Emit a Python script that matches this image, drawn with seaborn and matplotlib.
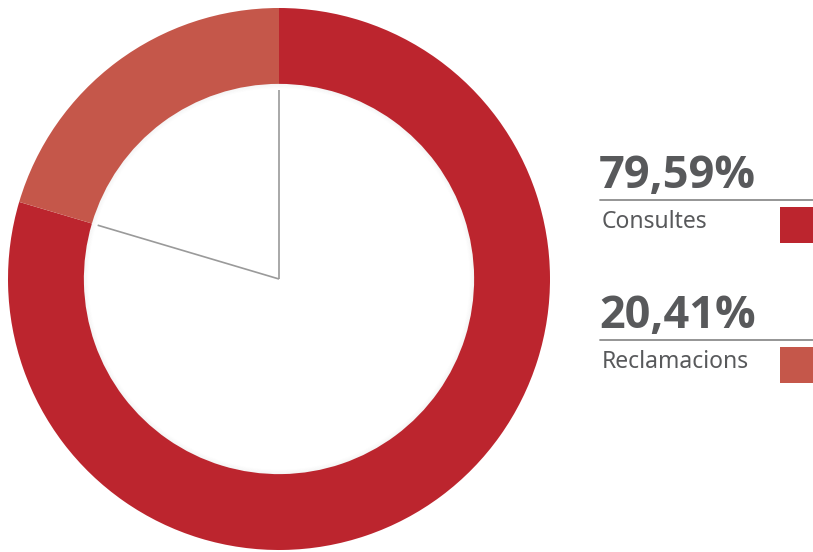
import numpy as np
import matplotlib
matplotlib.use("Agg")
import matplotlib.pyplot as plt
from matplotlib.patches import Rectangle, Wedge
import seaborn as sns

categories = ["Consultes", "Reclamacions"]
values = [79.59, 20.41]
colors = ["#BC252E", "#C5574A"]

sns.set_theme(style="white")
plt.rcParams["font.family"] = ["Noto Sans", "DejaVu Sans"]

W, H = 813, 552
fig = plt.figure(figsize=(W / 100, H / 100), dpi=100)
fig.patch.set_facecolor("white")

# donut axes: 542 px square centred at (279, 279) from the top
cx, cy, R = 279, 279, 271
ax = fig.add_axes([(cx - R) / W, (H - cy - R) / H, 2 * R / W, 2 * R / H])
ax.set_aspect("equal")
ax.axis("off")

inner = 0.72
start = 90
ax.pie(values, colors=colors, startangle=start, counterclock=False,
       radius=1.0, wedgeprops=dict(width=1.0 - inner, linewidth=0),
       frame=False)
ax.set_xlim(-1, 1)
ax.set_ylim(-1, 1)

# soft inner shadow along the hole edge
for i, a in enumerate(np.linspace(0.08, 0.0, 8)):
    r_out = inner - i * 0.0025
    ax.add_patch(Wedge((0, 0), r_out, 0, 360, width=0.0025,
                       facecolor="black", alpha=a * 0.5, linewidth=0))

# guide lines from centre to each slice boundary
r_line = 0.698
bounds = start - 360 * np.concatenate([[0], np.cumsum(values)[:-1]]) / sum(values)
for b in bounds:
    ang = np.deg2rad(b)
    ax.plot([0, r_line * np.cos(ang)], [0, r_line * np.sin(ang)],
            color="#9A9A9A", lw=1.2, solid_capstyle="butt")

# legend block on the right, in pixel coordinates
lg = fig.add_axes([0, 0, 1, 1])
lg.set_xlim(0, W)
lg.set_ylim(H, 0)
lg.axis("off")
text_col = "#58595B"
rows_y = [188, 328]
for cat, val, col, yb in zip(categories, values, colors, rows_y):
    pct = f"{val:.2f}".replace(".", ",") + "%"
    lg.text(599, yb, pct, fontsize=32.5, fontweight="bold", color=text_col,
            family=["Open Sans", "DejaVu Sans"], ha="left", va="baseline")
    lg.plot([600, 813], [yb + 12, yb + 12], color="#8C8C8C", lw=1.3)
    lg.text(602, yb + 40, cat, fontsize=16.5, color=text_col,
            ha="left", va="baseline")
    lg.add_patch(Rectangle((780, yb + 19), 33, 36, facecolor=col,
                           edgecolor="none"))

fig.savefig("out.png", dpi=100, facecolor="white")
